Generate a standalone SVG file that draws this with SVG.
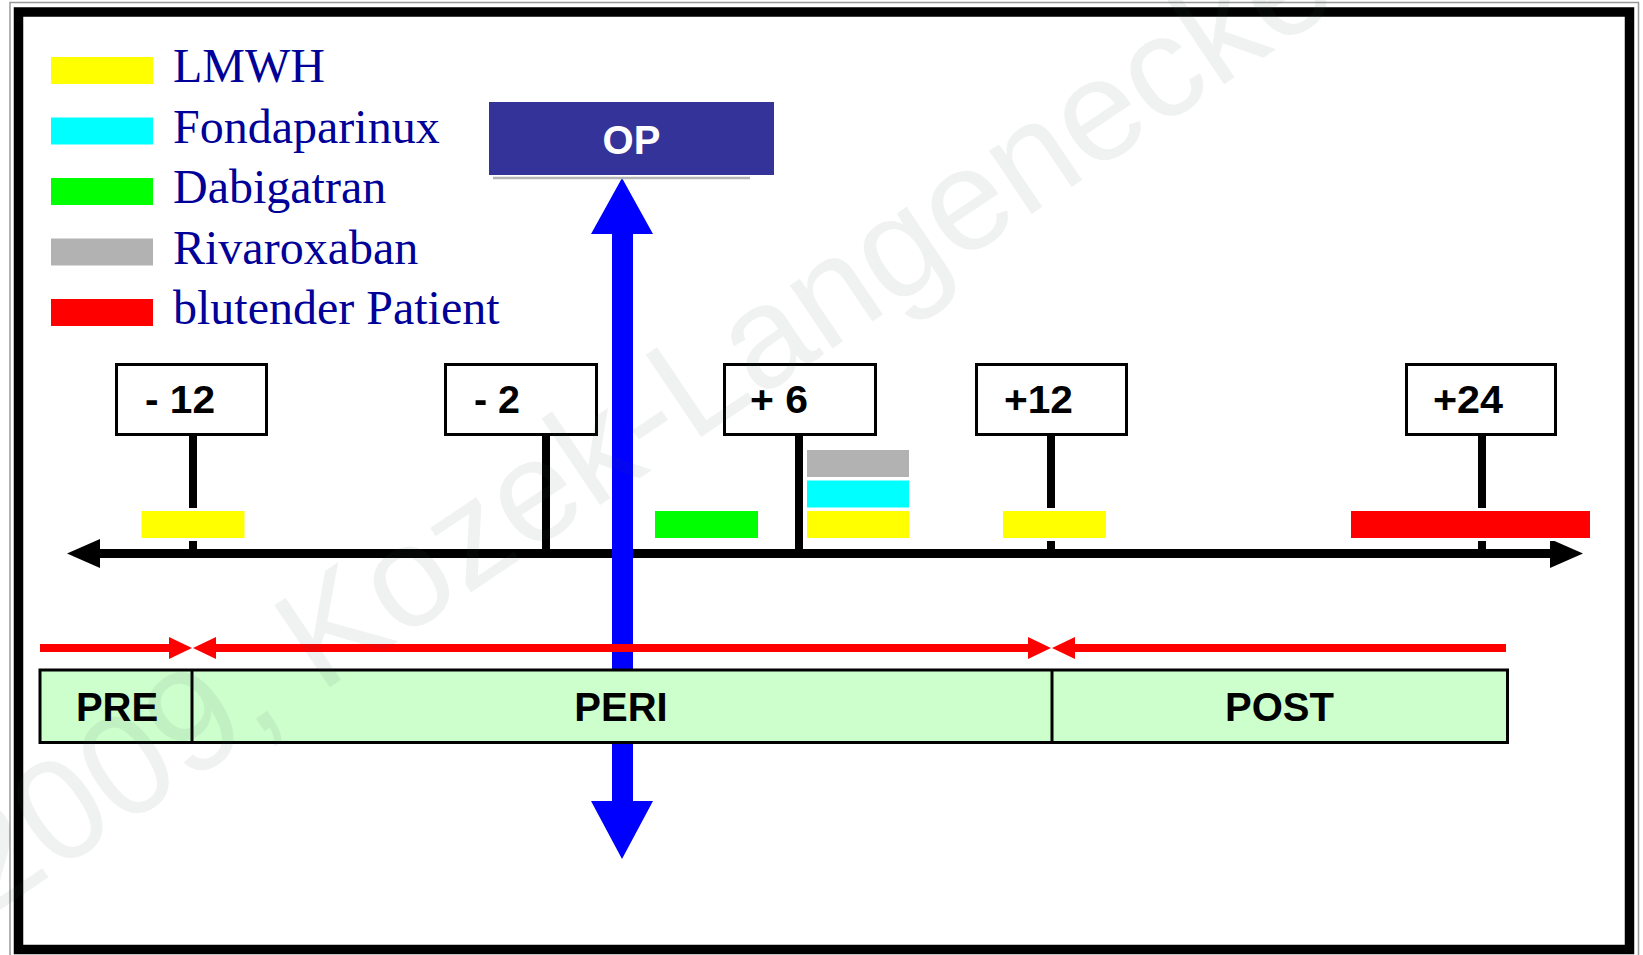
<svg xmlns="http://www.w3.org/2000/svg" width="1643" height="955" viewBox="0 0 1643 955">
<style>
.legend{font-family:"Liberation Serif","Times New Roman",serif;font-size:48px;fill:#000099}
.lbl{font-family:"Liberation Sans",Arial,sans-serif;font-weight:bold;font-size:38px;fill:#000}
.phase{font-family:"Liberation Sans",Arial,sans-serif;font-weight:bold;font-size:40px;fill:#000;text-anchor:middle}
.tick{fill:#fff;stroke:#000;stroke-width:3}
.bar{stroke:#fff;stroke-width:6;paint-order:stroke}
.stem{stroke:#000;stroke-width:8}
.red{stroke:#ff0000;stroke-width:8;fill:none}
.wm{font-family:"Liberation Sans",Arial,sans-serif;font-size:144px;fill:#3c5050;fill-opacity:0.08}
</style>
<defs>
<marker id="redHead" viewBox="0 0 23 22" refX="1" refY="11" markerWidth="23" markerHeight="22" markerUnits="userSpaceOnUse" orient="auto-start-reverse">
<path d="M0,0 L23,11 L0,22 z" fill="#ff0000"/>
</marker>
<marker id="blackHead" viewBox="0 0 33 29" refX="1" refY="14.5" markerWidth="33" markerHeight="29" markerUnits="userSpaceOnUse" orient="auto-start-reverse">
<path d="M0,0 L33,14.5 L0,29 z" fill="#000"/>
</marker>
</defs>
<rect x="0" y="0" width="1643" height="955" fill="#fff"/>
<g id="frame">
<rect x="10" y="2.5" width="1628.5" height="960" fill="none" stroke="#999" stroke-width="1.5"/>
<rect x="18.5" y="12" width="1611" height="937.5" fill="none" stroke="#000" stroke-width="9.5"/>
</g>
<g id="legend">
<g id="legend-lmwh"><rect x="51" y="57" width="102" height="27" fill="#ffff00"/><text class="legend" x="173" y="82">LMWH</text></g>
<g id="legend-fondaparinux"><rect x="51" y="117.5" width="102" height="27" fill="#00ffff"/><text class="legend" x="173" y="142.5">Fondaparinux</text></g>
<g id="legend-dabigatran"><rect x="51" y="178" width="102" height="27" fill="#00ff00"/><text class="legend" x="173" y="203">Dabigatran</text></g>
<g id="legend-rivaroxaban"><rect x="51" y="238.5" width="102" height="27" fill="#b2b2b2"/><text class="legend" x="173" y="263.5">Rivaroxaban</text></g>
<g id="legend-bleeding"><rect x="51" y="299" width="102" height="27" fill="#ff0000"/><text class="legend" x="173" y="324">blutender Patient</text></g>
</g>
<g id="connectors">
<line class="stem" x1="193" y1="436" x2="193" y2="550"/>
<line class="stem" x1="546" y1="436" x2="546" y2="550"/>
<line class="stem" x1="799" y1="436" x2="799" y2="550"/>
<line class="stem" x1="1051" y1="436" x2="1051" y2="550"/>
<line class="stem" x1="1482" y1="436" x2="1482" y2="550"/>
<line x1="99" y1="553.5" x2="1551" y2="553.5" stroke="#000" stroke-width="9" marker-start="url(#blackHead)" marker-end="url(#blackHead)"/>
<path id="op-arrow" d="M622,178 L653,234 L633,234 L633,801 L653,801 L622,859 L591,801 L612,801 L612,234 L591,234 Z" fill="#0000ff"/>
<line class="red" x1="40" y1="648" x2="170" y2="648" marker-end="url(#redHead)"/>
<line class="red" x1="215" y1="648" x2="1029" y2="648" marker-start="url(#redHead)" marker-end="url(#redHead)"/>
<line class="red" x1="1074" y1="648" x2="1506" y2="648" marker-start="url(#redHead)"/>
</g>
<g id="op">
<line x1="493" y1="178" x2="750" y2="178" stroke="#b4b4b4" stroke-width="2.5"/>
<rect x="489" y="102" width="285" height="73" fill="#333399"/>
<text x="631.5" y="154" font-family="Liberation Sans,Arial,sans-serif" font-weight="bold" font-size="40" fill="#fff" text-anchor="middle">OP</text>
</g>
<g id="tick-m12"><rect class="tick" x="116.5" y="364.5" width="150" height="70"/><text class="lbl" x="145" y="413" textLength="70" lengthAdjust="spacingAndGlyphs">- 12</text></g>
<g id="tick-m2"><rect class="tick" x="445.5" y="364.5" width="151" height="70"/><text class="lbl" x="474" y="413" textLength="46" lengthAdjust="spacingAndGlyphs">- 2</text></g>
<g id="tick-p6"><rect class="tick" x="724.5" y="364.5" width="151" height="70"/><text class="lbl" x="750" y="413" textLength="58" lengthAdjust="spacingAndGlyphs">+ 6</text></g>
<g id="tick-p12"><rect class="tick" x="976.5" y="364.5" width="150" height="70"/><text class="lbl" x="1004" y="413" textLength="69" lengthAdjust="spacingAndGlyphs">+12</text></g>
<g id="tick-p24"><rect class="tick" x="1406.5" y="364.5" width="149" height="70"/><text class="lbl" x="1433" y="413" textLength="70" lengthAdjust="spacingAndGlyphs">+24</text></g>
<g id="bars">
<rect id="bar-m12-lmwh" class="bar" x="141.5" y="511" width="103" height="27" fill="#ffff00"/>
<rect id="bar-dabigatran" class="bar" x="655" y="511" width="103" height="27" fill="#00ff00"/>
<rect id="bar-p6-rivaroxaban" class="bar" x="807" y="450" width="102" height="27" fill="#b2b2b2"/>
<rect id="bar-p6-fondaparinux" class="bar" x="807" y="480.5" width="102" height="27" fill="#00ffff"/>
<rect id="bar-p6-lmwh" class="bar" x="807" y="511" width="102" height="27" fill="#ffff00"/>
<rect id="bar-p12-lmwh" class="bar" x="1003" y="511" width="103" height="27" fill="#ffff00"/>
<rect id="bar-p24-bleeding" class="bar" x="1351" y="511" width="239" height="27" fill="#ff0000"/>
</g>
<g id="phases">
<rect x="40" y="670" width="1467.5" height="72.5" fill="#ccffcc" stroke="#000" stroke-width="3"/>
<line x1="192" y1="670" x2="192" y2="742.5" stroke="#000" stroke-width="3"/>
<line x1="1052" y1="670" x2="1052" y2="742.5" stroke="#000" stroke-width="3"/>
<text class="phase" x="117" y="721">PRE</text>
<text class="phase" x="621" y="721">PERI</text>
<text class="phase" x="1279.5" y="721">POST</text>
</g>
<text id="watermark" class="wm" transform="translate(-12,918) rotate(-34)">2009, Kozek-Langenecker</text>
</svg>
